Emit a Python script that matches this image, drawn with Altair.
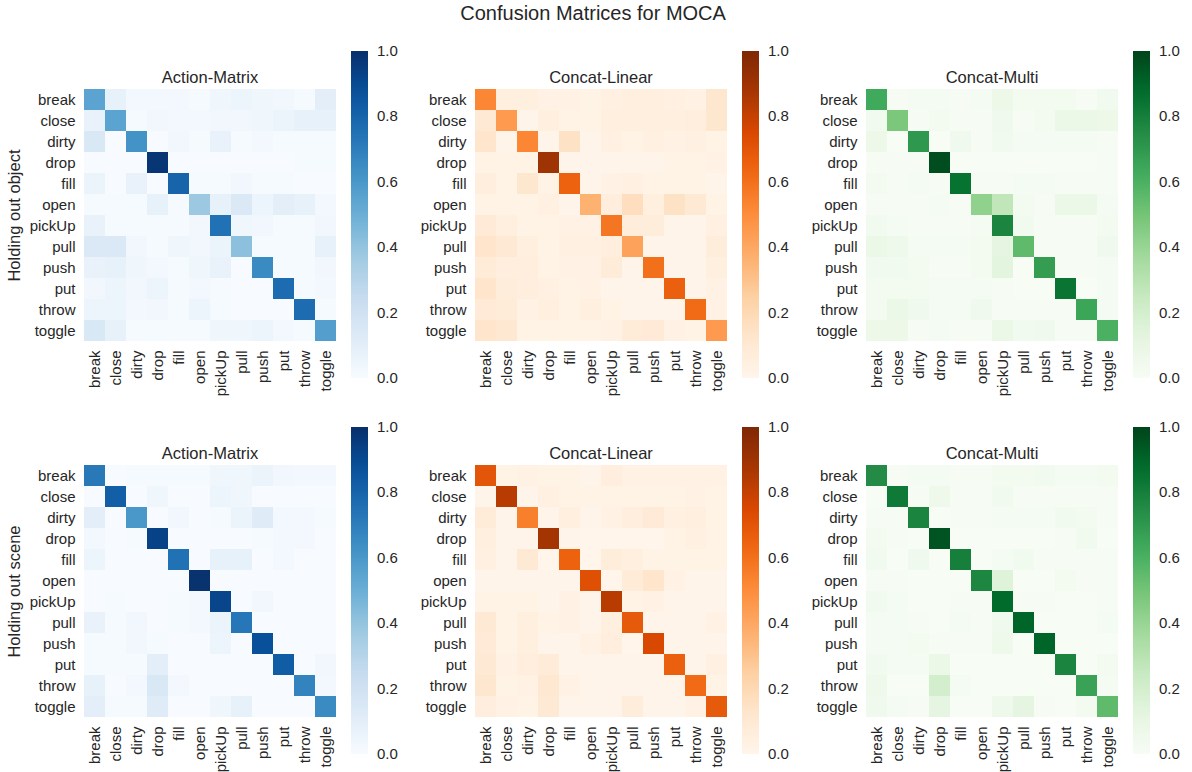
import altair as alt
import pandas as pd

ACTIONS = ["break", "close", "dirty", "drop", "fill", "open",
           "pickUp", "pull", "push", "put", "throw", "toggle"]

MODELS = ["Action-Matrix", "Concat-Linear", "Concat-Multi"]
SPLITS = ["Holding out object", "Holding out scene"]

# Row-normalised confusion matrices (rows = true action, columns = predicted action)
OBJECT_ACTION_MATRIX = [
    [0.55, 0.08, 0.02, 0.02, 0.02, 0.01, 0.04, 0.05, 0.04, 0.03, 0.01, 0.10],
    [0.07, 0.55, 0.01, 0.03, 0.02, 0.02, 0.03, 0.03, 0.04, 0.06, 0.08, 0.08],
    [0.15, 0.00, 0.62, 0.00, 0.03, 0.01, 0.07, 0.01, 0.02, 0.01, 0.01, 0.01],
    [0.00, 0.00, 0.00, 0.98, 0.00, 0.00, 0.00, 0.00, 0.00, 0.00, 0.01, 0.01],
    [0.06, 0.00, 0.07, 0.00, 0.80, 0.01, 0.01, 0.03, 0.01, 0.01, 0.00, 0.00],
    [0.01, 0.01, 0.01, 0.08, 0.01, 0.38, 0.08, 0.14, 0.05, 0.10, 0.08, 0.02],
    [0.07, 0.01, 0.01, 0.01, 0.01, 0.03, 0.75, 0.04, 0.03, 0.01, 0.01, 0.03],
    [0.14, 0.14, 0.03, 0.01, 0.04, 0.03, 0.06, 0.42, 0.01, 0.01, 0.01, 0.08],
    [0.07, 0.08, 0.04, 0.02, 0.01, 0.04, 0.07, 0.00, 0.65, 0.01, 0.01, 0.03],
    [0.03, 0.05, 0.03, 0.05, 0.01, 0.02, 0.01, 0.00, 0.00, 0.77, 0.01, 0.02],
    [0.05, 0.05, 0.02, 0.03, 0.01, 0.05, 0.01, 0.00, 0.00, 0.00, 0.77, 0.01],
    [0.15, 0.08, 0.01, 0.01, 0.01, 0.01, 0.04, 0.04, 0.05, 0.02, 0.01, 0.57],
]

OBJECT_CONCAT_LINEAR = [
    [0.52, 0.05, 0.05, 0.03, 0.03, 0.02, 0.04, 0.05, 0.05, 0.04, 0.03, 0.12],
    [0.10, 0.45, 0.01, 0.05, 0.02, 0.02, 0.05, 0.05, 0.05, 0.05, 0.06, 0.12],
    [0.13, 0.01, 0.52, 0.01, 0.15, 0.01, 0.04, 0.02, 0.04, 0.03, 0.04, 0.02],
    [0.02, 0.02, 0.02, 0.90, 0.01, 0.01, 0.01, 0.01, 0.01, 0.02, 0.02, 0.03],
    [0.06, 0.02, 0.12, 0.02, 0.65, 0.01, 0.03, 0.04, 0.02, 0.02, 0.02, 0.01],
    [0.02, 0.02, 0.02, 0.04, 0.01, 0.36, 0.06, 0.17, 0.05, 0.15, 0.10, 0.02],
    [0.09, 0.05, 0.02, 0.02, 0.03, 0.03, 0.58, 0.07, 0.07, 0.01, 0.01, 0.04],
    [0.13, 0.10, 0.05, 0.02, 0.04, 0.04, 0.06, 0.42, 0.01, 0.01, 0.01, 0.07],
    [0.08, 0.06, 0.06, 0.02, 0.03, 0.03, 0.08, 0.01, 0.60, 0.01, 0.01, 0.05],
    [0.13, 0.07, 0.06, 0.04, 0.02, 0.03, 0.01, 0.01, 0.01, 0.66, 0.01, 0.03],
    [0.09, 0.08, 0.03, 0.05, 0.02, 0.05, 0.02, 0.01, 0.01, 0.01, 0.62, 0.03],
    [0.13, 0.11, 0.02, 0.02, 0.02, 0.02, 0.03, 0.08, 0.09, 0.03, 0.02, 0.45],
]

OBJECT_CONCAT_MULTI = [
    [0.63, 0.01, 0.02, 0.02, 0.01, 0.02, 0.07, 0.03, 0.03, 0.03, 0.01, 0.04],
    [0.04, 0.48, 0.01, 0.03, 0.01, 0.01, 0.05, 0.01, 0.03, 0.08, 0.08, 0.07],
    [0.07, 0.00, 0.70, 0.00, 0.05, 0.01, 0.04, 0.02, 0.02, 0.02, 0.02, 0.01],
    [0.01, 0.01, 0.01, 0.97, 0.00, 0.00, 0.00, 0.00, 0.00, 0.00, 0.00, 0.01],
    [0.03, 0.01, 0.02, 0.01, 0.85, 0.01, 0.01, 0.02, 0.02, 0.01, 0.01, 0.01],
    [0.01, 0.01, 0.01, 0.02, 0.01, 0.42, 0.27, 0.03, 0.01, 0.08, 0.08, 0.02],
    [0.04, 0.02, 0.01, 0.01, 0.01, 0.02, 0.78, 0.04, 0.01, 0.01, 0.01, 0.03],
    [0.08, 0.06, 0.02, 0.02, 0.02, 0.03, 0.12, 0.55, 0.01, 0.01, 0.01, 0.05],
    [0.04, 0.04, 0.03, 0.01, 0.01, 0.03, 0.13, 0.00, 0.68, 0.01, 0.01, 0.02],
    [0.03, 0.03, 0.03, 0.02, 0.02, 0.02, 0.01, 0.00, 0.00, 0.84, 0.00, 0.02],
    [0.03, 0.08, 0.05, 0.02, 0.02, 0.05, 0.01, 0.01, 0.01, 0.01, 0.65, 0.02],
    [0.07, 0.07, 0.01, 0.02, 0.01, 0.01, 0.08, 0.04, 0.05, 0.01, 0.01, 0.60],
]

SCENE_ACTION_MATRIX = [
    [0.72, 0.00, 0.01, 0.01, 0.01, 0.01, 0.04, 0.04, 0.06, 0.03, 0.02, 0.02],
    [0.00, 0.82, 0.00, 0.04, 0.00, 0.00, 0.05, 0.04, 0.00, 0.00, 0.00, 0.00],
    [0.10, 0.00, 0.60, 0.00, 0.03, 0.00, 0.01, 0.06, 0.12, 0.02, 0.02, 0.01],
    [0.02, 0.00, 0.01, 0.93, 0.00, 0.00, 0.00, 0.00, 0.01, 0.02, 0.02, 0.00],
    [0.05, 0.00, 0.00, 0.00, 0.75, 0.00, 0.08, 0.08, 0.00, 0.02, 0.00, 0.00],
    [0.00, 0.00, 0.00, 0.00, 0.00, 0.99, 0.00, 0.00, 0.00, 0.00, 0.00, 0.00],
    [0.00, 0.01, 0.00, 0.00, 0.01, 0.02, 0.92, 0.00, 0.03, 0.00, 0.00, 0.00],
    [0.07, 0.01, 0.03, 0.00, 0.01, 0.02, 0.06, 0.73, 0.00, 0.00, 0.00, 0.00],
    [0.01, 0.01, 0.03, 0.01, 0.00, 0.00, 0.05, 0.00, 0.88, 0.00, 0.00, 0.00],
    [0.01, 0.01, 0.01, 0.10, 0.00, 0.00, 0.00, 0.00, 0.00, 0.83, 0.00, 0.03],
    [0.08, 0.00, 0.02, 0.15, 0.02, 0.00, 0.00, 0.00, 0.00, 0.00, 0.68, 0.02],
    [0.10, 0.01, 0.01, 0.12, 0.00, 0.00, 0.04, 0.08, 0.00, 0.00, 0.00, 0.65],
]

SCENE_CONCAT_LINEAR = [
    [0.70, 0.02, 0.03, 0.02, 0.02, 0.01, 0.06, 0.03, 0.03, 0.03, 0.03, 0.03],
    [0.01, 0.83, 0.01, 0.04, 0.02, 0.02, 0.02, 0.02, 0.02, 0.02, 0.03, 0.02],
    [0.08, 0.01, 0.55, 0.01, 0.05, 0.01, 0.03, 0.06, 0.09, 0.04, 0.05, 0.02],
    [0.05, 0.01, 0.01, 0.88, 0.01, 0.00, 0.00, 0.00, 0.00, 0.02, 0.04, 0.02],
    [0.04, 0.01, 0.10, 0.00, 0.65, 0.00, 0.07, 0.05, 0.02, 0.02, 0.02, 0.02],
    [0.01, 0.01, 0.01, 0.01, 0.01, 0.72, 0.00, 0.08, 0.13, 0.03, 0.01, 0.01],
    [0.02, 0.02, 0.02, 0.01, 0.03, 0.01, 0.83, 0.02, 0.03, 0.01, 0.01, 0.01],
    [0.10, 0.02, 0.05, 0.02, 0.03, 0.01, 0.05, 0.68, 0.01, 0.01, 0.01, 0.03],
    [0.09, 0.02, 0.05, 0.01, 0.01, 0.03, 0.06, 0.00, 0.75, 0.01, 0.01, 0.01],
    [0.10, 0.03, 0.06, 0.08, 0.01, 0.01, 0.01, 0.01, 0.01, 0.66, 0.01, 0.04],
    [0.12, 0.02, 0.03, 0.11, 0.03, 0.01, 0.01, 0.01, 0.01, 0.01, 0.62, 0.02],
    [0.06, 0.03, 0.02, 0.10, 0.01, 0.01, 0.01, 0.07, 0.01, 0.01, 0.03, 0.68],
]

SCENE_CONCAT_MULTI = [
    [0.75, 0.01, 0.02, 0.02, 0.01, 0.01, 0.03, 0.03, 0.04, 0.02, 0.02, 0.03],
    [0.00, 0.82, 0.01, 0.06, 0.01, 0.01, 0.04, 0.01, 0.01, 0.01, 0.01, 0.01],
    [0.01, 0.01, 0.78, 0.00, 0.01, 0.01, 0.02, 0.02, 0.02, 0.04, 0.03, 0.01],
    [0.03, 0.01, 0.00, 0.95, 0.00, 0.00, 0.00, 0.00, 0.00, 0.01, 0.04, 0.00],
    [0.04, 0.00, 0.05, 0.00, 0.80, 0.00, 0.02, 0.04, 0.01, 0.01, 0.01, 0.01],
    [0.01, 0.01, 0.00, 0.00, 0.00, 0.77, 0.15, 0.00, 0.00, 0.03, 0.01, 0.01],
    [0.04, 0.02, 0.00, 0.00, 0.01, 0.01, 0.88, 0.01, 0.01, 0.00, 0.00, 0.01],
    [0.02, 0.02, 0.01, 0.00, 0.02, 0.01, 0.05, 0.90, 0.00, 0.00, 0.00, 0.02],
    [0.02, 0.02, 0.03, 0.01, 0.01, 0.01, 0.06, 0.00, 0.90, 0.00, 0.00, 0.00],
    [0.04, 0.02, 0.02, 0.08, 0.00, 0.00, 0.00, 0.00, 0.00, 0.78, 0.00, 0.03],
    [0.06, 0.00, 0.00, 0.20, 0.02, 0.00, 0.00, 0.00, 0.00, 0.00, 0.66, 0.02],
    [0.05, 0.02, 0.01, 0.12, 0.00, 0.00, 0.06, 0.12, 0.01, 0.00, 0.03, 0.55],
]

# Sequential palettes (9-class ColorBrewer), interpolated linearly over [0, 1]
BLUES = ["#f7fbff", "#deebf7", "#c6dbef", "#9ecae1", "#6baed6",
         "#4292c6", "#2171b5", "#08519c", "#08306b"]
ORANGES = ["#fff5eb", "#fee6ce", "#fdd0a2", "#fdae6b", "#fd8d3c",
           "#f16913", "#d94801", "#a63603", "#7f2704"]
GREENS = ["#f7fcf5", "#e5f5e0", "#c7e9c0", "#a1d99b", "#74c476",
          "#41ab5d", "#238b45", "#006d2c", "#00441b"]
# colour stops; the ends sit a hair outside [0, 1] so the colourbar's end labels
# stay centred on the bar ends
STOPS = [-0.0001, 0.125, 0.25, 0.375, 0.5, 0.625, 0.75, 0.875, 1.0001]
CBAR_TICKS = [0.0, 0.2, 0.4, 0.6, 0.8, 1.0]

FONT = "Liberation Sans"
INK = "#262626"
CELL = 21
SIDE = CELL * len(ACTIONS)


def long_form(matrix):
    rows = []
    for i, actual in enumerate(ACTIONS):
        for j, predicted in enumerate(ACTIONS):
            rows.append({"actual": actual, "predicted": predicted,
                         "rate": matrix[i][j]})
    return pd.DataFrame(rows)


def heatmap(matrix, colors, model, split=None):
    y_kwargs = {"title": split} if split else {"title": None}
    return (
        alt.Chart(
            long_form(matrix),
            title=alt.TitleParams(model, fontSize=16.5, fontWeight="normal",
                                  color=INK, font=FONT, frame="group",
                                  anchor="middle", offset=2, dy=37),
        )
        .mark_rect()
        .encode(
            x=alt.X("predicted:N", sort=ACTIONS, title=None,
                    axis=alt.Axis(labelAngle=-90, labelPadding=9)),
            y=alt.Y("actual:N", sort=ACTIONS,
                    axis=alt.Axis(labelPadding=9, titlePadding=7), **y_kwargs),
            color=alt.Color(
                "rate:Q", title=None,
                scale=alt.Scale(domain=STOPS, range=colors, interpolate="rgb"),
                legend=alt.Legend(
                    orient="none", direction="vertical",
                    legendX=SIDE + 15, legendY=-38,
                    gradientLength=327, gradientThickness=17,
                    values=CBAR_TICKS, format=".1f",
                    labelFontSize=15, labelColor=INK, labelFont=FONT,
                    labelOffset=9, padding=0,
                ),
            ),
        )
        .properties(width=SIDE, height=SIDE)
    )


panels = [
    heatmap(OBJECT_ACTION_MATRIX, BLUES, MODELS[0], SPLITS[0]),
    heatmap(OBJECT_CONCAT_LINEAR, ORANGES, MODELS[1]),
    heatmap(OBJECT_CONCAT_MULTI, GREENS, MODELS[2]),
    heatmap(SCENE_ACTION_MATRIX, BLUES, MODELS[0], SPLITS[1]),
    heatmap(SCENE_CONCAT_LINEAR, ORANGES, MODELS[1]),
    heatmap(SCENE_CONCAT_MULTI, GREENS, MODELS[2]),
]

chart = (
    alt.concat(*panels, columns=3, spacing={"row": 124, "column": 139},
               bounds="flush")
    .resolve_scale(color="independent")
    .properties(
        title=alt.TitleParams("Confusion Matrices for MOCA", fontSize=20,
                              fontWeight="normal", color=INK, font=FONT,
                              anchor="middle", offset=27),
        padding={"left": 6, "top": 4, "right": 12, "bottom": 4},
        background="white",
    )
    .configure_view(strokeWidth=0)
    .configure_axis(
        domain=False, ticks=False, labelFont=FONT, labelFontSize=15,
        labelColor=INK, titleFont=FONT, titleFontSize=16.5,
        titleFontWeight="normal", titleColor=INK,
    )
)

chart.save("out.html", embed_options={"renderer": "svg", "actions": False})
